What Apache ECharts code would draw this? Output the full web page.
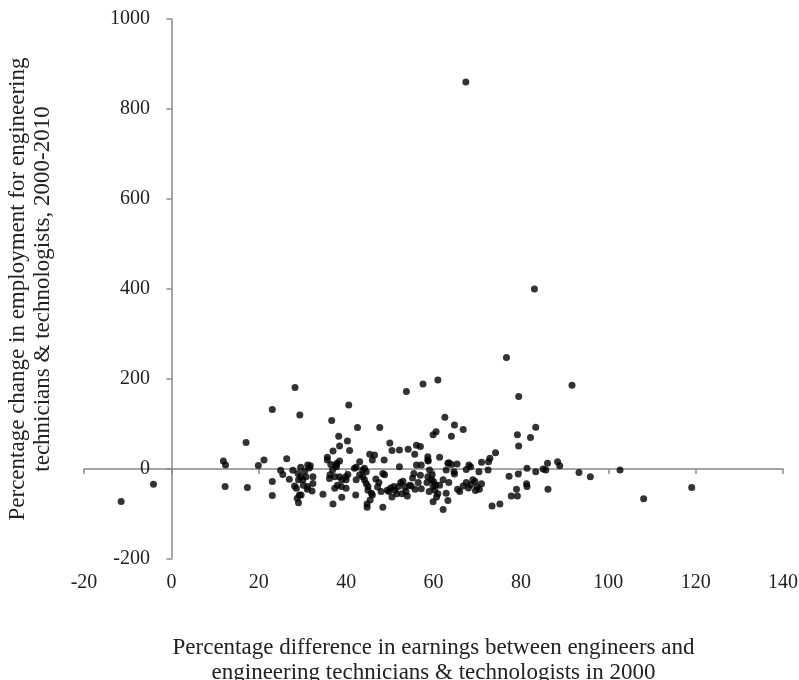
<!DOCTYPE html>
<html>
<head>
<meta charset="utf-8">
<script src="https://cdn.jsdelivr.net/npm/echarts@6/dist/echarts.min.js"></script>
<style>
  html, body { margin: 0; padding: 0; background: #fff; }
  #chart { width: 799px; height: 680px; }
</style>
</head>
<body>
<div id="chart"></div>
<script>
// Percentage difference in earnings (engineers vs technicians & technologists), 2000
const earningsGap = [
  -11.5, -4.1,
  11.9, 12.4, 12.3, 17.1, 17.4, 19.9, 21.2, 23.1, 23.1, 23.1, 25.0, 25.5, 26.4, 27.0, 27.8, 28.3, 29.4,
  28.2, 28.6, 29.1, 29.6, 29.3, 29.7, 29.1, 28.8, 30.1, 30.2, 30.8, 31.2, 31.6, 31.8, 32.4, 32.4, 32.2, 31.1, 29.6, 31.2, 29.0, 30.5,
  34.7, 35.7, 35.7, 36.7, 37.0, 37.0, 36.2, 36.3, 36.9, 37.4, 37.8, 37.9, 38.5, 38.5, 39.0, 38.9, 39.0, 38.0, 37.4, 40.0, 40.0, 39.9, 40.4, 38.3, 38.5, 40.3, 40.8, 40.6, 36.5, 37.6,
  42.2, 42.3, 42.6, 43.1, 41.9, 42.3, 43.8, 44.2, 44.6, 43.1, 43.8, 44.2, 44.6, 45.0, 45.0, 45.8, 46.0, 45.5, 44.8, 44.8, 45.4, 46.5, 46.0, 47.7, 48.4, 48.7, 48.4, 48.8, 47.5, 46.8, 47.2, 48.0,
  49.4, 49.8, 50.2, 50.9, 51.2, 50.5, 52.0, 50.0, 50.5, 52.2, 53.8, 54.2, 55.7, 56.1, 57.0, 57.6, 61.0, 52.2, 56.1, 57.2, 52.5, 53.0, 53.5, 52.8, 53.7, 54.5, 55.2, 55.8, 56.5, 57.0, 54.0, 55.5, 51.6, 54.9, 57.2,
  58.7, 58.7, 59.1, 58.7, 59.5, 59.9, 60.3, 60.7, 59.9, 62.2, 61.4, 62.2, 62.9, 63.3, 62.6, 59.9, 60.6, 61.4, 58.8, 59.7, 62.9, 63.5, 64.1, 65.4, 64.8, 64.7, 63.3, 63.5, 64.8, 66.8, 64.1, 58.5, 59.0, 60.0, 61.0, 60.5,
  68.1, 68.5, 67.5, 71.0, 72.6, 72.9, 74.2, 70.4, 72.5, 66.8, 69.0, 69.5, 70.0, 70.5, 69.6, 68.0, 67.5, 68.5, 71.0, 73.4, 75.2, 67.4, 76.7, 65.5, 66.0,
  77.3, 79.4, 81.4, 83.4, 85.1, 86.1, 79.2, 79.5, 82.2, 83.4, 79.0, 77.8, 79.2, 81.3, 81.4, 86.2, 83.1, 79.5, 85.7, 88.4, 88.9, 91.7,
  93.3, 95.9, 102.7, 108.1, 119.1
];

// Percentage change in employment for technicians & technologists, 2000-2010
const employmentChange = [
  -72, -34,
  18, 9, -39, 59, -41, 8, 20, 132, -28, -59, -3, -12, 23, -23, -3, 181, 120,
  -38, -43, -24, -17, -58, -58, -75, -65, -24, -36, -17, -39, 2, 7, -17, -32, -49, -45, 4, 9, -10, -5,
  -56, 26, 20, 108, 40, -78, -21, -13, -2, -17, 5, 13, 18, -17, -24, -39, -63, -36, -43, -43, -24, -17, -12, 73, 51, 62, 41, 142, 10, 9,
  -58, -24, 92, 16, 1.5, 4, -2, 1.5, -6, -13, -17, -24, -32, -39, -47, -54, -58, -69, -78, -85, 33, 31, 20, 92, -85, 20, -10, -13, -30, -22, -40, -50,
  -47, -50, -42, -39, -47, -62, -39, 58, 41, 42, 172, 44, 33, 53, 50, 189, 198, 5, 9, 9, -30, -27, -40, -55, -50, -36, -20, -45, -30, -14, -60, -10, -55, -38, -44,
  27, 20, -2, -17, -24, -39, -47, -62, -73, -90, -36, -24, -54, 13, 115, 76, 83, 26, 18, -13, -2, 14, 10, 11, -11, -6, -70, -30, 98, 88, 73, -30, -50, -28, -55, -35,
  9, 5, -1, 15, 16, 24, 36, -6, -2, -38, -24, -28, -40, -45, -48, -42, -30, -35, -33, -82, -78, 860, 248, -45, -50,
  -16, -11, 1.5, -6, 0, 13, 76, 51, 70, 93, -45, -60, -60, -33, -39, -45, 400, 161, -2, 16, 7, 186,
  -8, -17, -2, -66, -41
];

const xRange = { min: -20, max: 140, interval: 20 };
const yRange = { min: -200, max: 1000, interval: 200 };

const xTitle = 'Percentage difference in earnings between engineers and\nengineering technicians & technologists in 2000';
const yTitle = 'Percentage change in employment for engineering\ntechnicians & technologists, 2000-2010';

const points = earningsGap.map((x, i) => [x, employmentChange[i]]);

const FONT = "'Liberation Serif', 'Times New Roman', serif";
const TEXT = '#222';
const AXIS = '#888';
const plainNumber = v => String(v);

const chart = echarts.init(document.getElementById('chart'), null, { renderer: 'canvas' });

chart.setOption({
  animation: false,
  backgroundColor: '#fff',
  grid: { left: 84, right: 16, top: 19, bottom: 121, containLabel: false, outerBoundsMode: 'none' },
  xAxis: [
    {
      // tick labels and title along the bottom edge
      type: 'value',
      min: xRange.min, max: xRange.max, interval: xRange.interval,
      position: 'bottom',
      axisLine: { show: false, onZero: false },
      axisTick: { show: false },
      splitLine: { show: false },
      axisLabel: { fontFamily: FONT, fontSize: 20, color: TEXT, margin: 14, formatter: plainNumber },
      name: xTitle,
      nameLocation: 'middle',
      nameGap: 76,
      nameTextStyle: { fontFamily: FONT, fontSize: 23, color: TEXT, lineHeight: 25 }
    },
    {
      // axis line crossing at y = 0
      type: 'value',
      min: xRange.min, max: xRange.max, interval: xRange.interval,
      position: 'bottom',
      axisLine: { show: true, onZero: true, lineStyle: { color: AXIS, width: 1.5 } },
      axisTick: { show: true, length: 5, lineStyle: { color: AXIS, width: 1.5 } },
      axisLabel: { show: false },
      splitLine: { show: false }
    }
  ],
  yAxis: {
    // vertical axis line sits at x = 0; labels placed just left of it
    type: 'value',
    min: yRange.min, max: yRange.max, interval: yRange.interval,
    axisLine: { show: true, onZero: true, lineStyle: { color: AXIS, width: 1.5 } },
    axisTick: { show: true, length: 5, lineStyle: { color: AXIS, width: 1.5 } },
    splitLine: { show: false },
    axisLabel: { fontFamily: FONT, fontSize: 20, color: TEXT, margin: -66, formatter: plainNumber },
    name: yTitle,
    nameLocation: 'middle',
    nameGap: 29,
    nameRotate: 90,
    nameTextStyle: { fontFamily: FONT, fontSize: 23, color: TEXT, lineHeight: 25 }
  },
  series: [{
    type: 'scatter',
    xAxisIndex: 0,
    yAxisIndex: 0,
    data: points,
    symbol: 'circle',
    symbolSize: 7,
    itemStyle: { color: '#000' },
    silent: true
  }]
});
</script>
</body>
</html>
